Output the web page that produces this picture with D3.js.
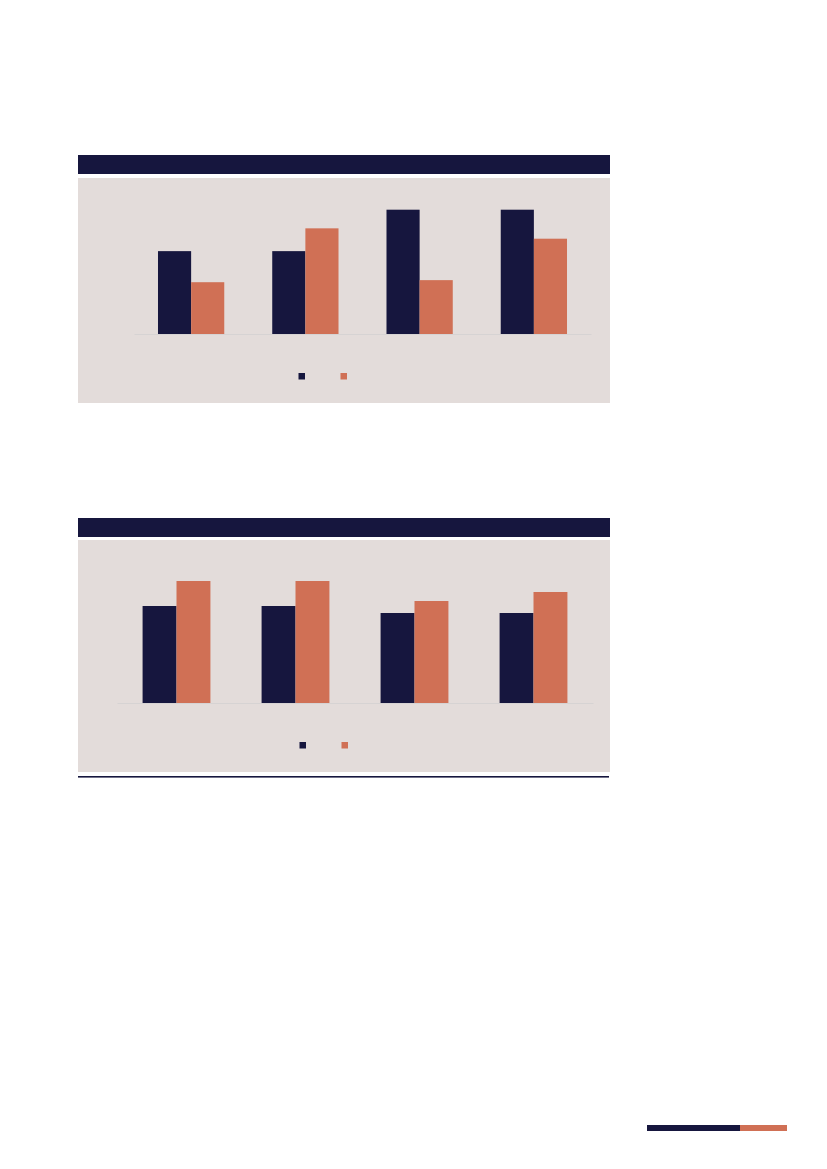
<!DOCTYPE html>
<html>
<head>
<meta charset="utf-8">
<script src="https://cdn.jsdelivr.net/npm/d3@7"></script>
<style>
  html, body { margin: 0; padding: 0; background: #ffffff; }
  svg { display: block; }
</style>
</head>
<body>
<svg id="page" width="827" height="1169"></svg>
<script>
// chart values (no labels are printed in it)
const categories = ['A', 'B', 'C', 'D'];
const seriesNames = ['Series 1', 'Series 2'];

const topNavy = [40, 40, 60, 60];
const topOrange = [25, 51, 26, 46];

const bottomNavy = [97, 97, 90, 90];
const bottomOrange = [122, 122, 102, 111];

const NAVY = '#16163e';
const ORANGE = '#d07055';
const PANEL = '#e3dcda';
const GRID = '#d6d3d3';

const svg = d3.select('#page');

function drawChart(cfg, navy, orange, yMax) {
  const g = svg.append('g');

  // dark header strip
  g.append('rect')
    .attr('x', 78).attr('y', cfg.headerY)
    .attr('width', 532).attr('height', 19)
    .attr('fill', NAVY);

  // panel
  g.append('rect')
    .attr('x', 78).attr('y', cfg.panelY)
    .attr('width', 532).attr('height', cfg.panelH)
    .attr('fill', PANEL);

  const x0 = d3.scaleBand()
    .domain(categories)
    .range([cfg.left, cfg.right])
    .paddingInner(cfg.pad)
    .paddingOuter(cfg.pad / 2);

  const x1 = d3.scaleBand()
    .domain(seriesNames)
    .range([0, x0.bandwidth()]);

  const y = d3.scaleLinear()
    .domain([0, yMax])
    .range([cfg.base, cfg.base - cfg.plotH]);

  const color = d3.scaleOrdinal().domain(seriesNames).range([NAVY, ORANGE]);

  const rows = categories.map((c, i) => ({
    cat: c,
    vals: [
      { key: seriesNames[0], v: navy[i] },
      { key: seriesNames[1], v: orange[i] }
    ]
  }));

  // baseline
  g.append('g')
    .attr('transform', `translate(0,${cfg.base})`)
    .call(d3.axisBottom(x0).tickSize(0).tickFormat(''))
    .call(a => a.select('.domain').attr('stroke', GRID).attr('stroke-width', 1));

  g.append('g')
    .selectAll('g')
    .data(rows)
    .join('g')
    .attr('transform', d => `translate(${x0(d.cat)},0)`)
    .selectAll('rect')
    .data(d => d.vals)
    .join('rect')
    .attr('x', d => x1(d.key))
    .attr('width', x1.bandwidth())
    .attr('y', d => y(d.v))
    .attr('height', d => y(0) - y(d.v))
    .attr('fill', d => color(d.key));

  // legend swatches (no text in the reference)
  g.append('g')
    .selectAll('rect')
    .data(seriesNames)
    .join('rect')
    .attr('x', (d, i) => cfg.legX + i * 42)
    .attr('y', cfg.legY)
    .attr('width', 6.5).attr('height', 6.5)
    .attr('fill', d => color(d));
}

drawChart({
  headerY: 155, panelY: 178, panelH: 225,
  left: 134, right: 591, pad: 0.42,
  base: 334, plotH: 124.3, legX: 298.5, legY: 373
}, topNavy, topOrange, 60);

drawChart({
  headerY: 518, panelY: 540, panelH: 232,
  left: 117, right: 593, pad: 0.43,
  base: 703, plotH: 122, legX: 299.5, legY: 742
}, bottomNavy, bottomOrange, 122);

// rule under the second chart
svg.append('rect')
  .attr('x', 78).attr('y', 776)
  .attr('width', 531).attr('height', 1.6)
  .attr('fill', NAVY);

// footer strip
svg.append('rect').attr('x', 647).attr('y', 1125).attr('width', 93).attr('height', 6).attr('fill', NAVY);
svg.append('rect').attr('x', 740).attr('y', 1125).attr('width', 47).attr('height', 6).attr('fill', ORANGE);
</script>
</body>
</html>
